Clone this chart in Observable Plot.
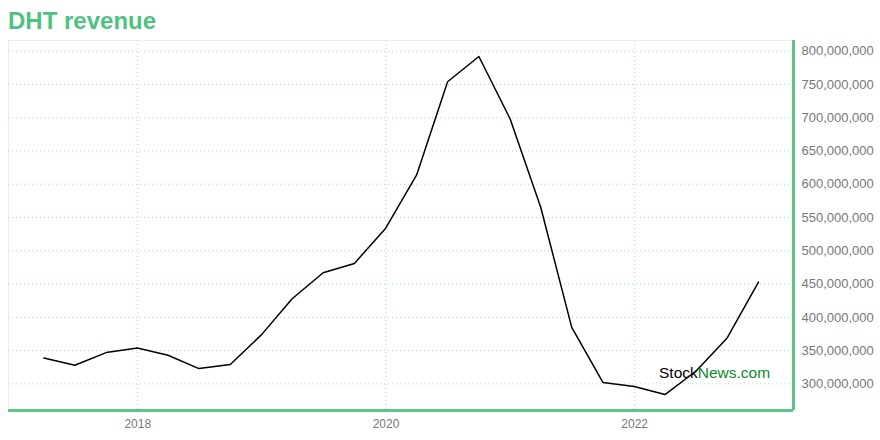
<!DOCTYPE html>
<html>
<head>
<meta charset="utf-8">
<script src="https://cdn.jsdelivr.net/npm/d3@7"></script>
<script src="https://cdn.jsdelivr.net/npm/@observablehq/plot@0.6"></script>
<style>
  html, body { margin: 0; padding: 0; background: #fff; }
  #wrap { position: relative; width: 880px; height: 440px; font-family: "Liberation Sans", Arial, sans-serif; }
  #title { position: absolute; left: 8px; top: 7px; font-size: 24px; font-weight: bold; color: #4fc281; }
  #wm { position: absolute; left: 659px; top: 364px; font-size: 15.5px; }
  #wm .a { color: #000; } #wm .b { color: #0b8a2e; }
</style>
</head>
<body>
<div id="wrap">
  <div id="chart"></div>
  <div id="title">DHT revenue</div>
  <div id="wm"><span class="a">Stock</span><span class="b">News.com</span></div>
</div>
<script>
const dates = ["2017-03-31","2017-06-30","2017-09-30","2017-12-31","2018-03-31","2018-06-30","2018-09-30","2018-12-31",
  "2019-03-31","2019-06-30","2019-09-30","2019-12-31","2020-03-31","2020-06-30","2020-09-30","2020-12-31",
  "2021-03-31","2021-06-30","2021-09-30","2021-12-31","2022-03-31","2022-06-30","2022-09-30","2022-12-31"];
const revenue = [339e6, 328e6, 347e6, 354e6, 343e6, 323e6, 329e6, 374e6,
  428e6, 467e6, 481e6, 534e6, 614e6, 754e6, 792e6, 698e6,
  565e6, 385e6, 302e6, 296e6, 284e6, 319e6, 369e6, 453e6];
const yTicks = [300e6, 350e6, 400e6, 450e6, 500e6, 550e6, 600e6, 650e6, 700e6, 750e6, 800e6];
const xTicks = ["2018-01-01", "2020-01-01", "2022-01-01"];
const xDomain = ["2016-12-17", "2023-04-13"];
const yDomain = [260e6, 816e6];

const data = dates.map((d, i) => ({date: new Date(d), value: revenue[i]}));
const grid = "#a3ddb8";
const green = "#5cc58a";

const chart = Plot.plot({
  width: 880,
  height: 440,
  marginTop: 40,
  marginBottom: 30,
  marginLeft: 8,
  marginRight: 87,
  style: {fontFamily: "'Liberation Sans', Arial, sans-serif", background: "#fff"},
  x: {type: "utc", domain: xDomain.map(d => new Date(d))},
  y: {domain: yDomain},
  marks: [
    Plot.frame({stroke: "#ececec"}),
    Plot.gridY(yTicks, {stroke: grid, strokeOpacity: 1, strokeDasharray: "1,3"}),
    Plot.gridX(xTicks.map(d => new Date(d)), {stroke: grid, strokeOpacity: 1, strokeDasharray: "1,3"}),
    Plot.axisY(yTicks, {anchor: "right", tickSize: 0, tickPadding: 8, tickFormat: d3.format(","), fontSize: 13, fill: "#777", label: null}),
    Plot.axisX(xTicks.map(d => new Date(d)), {anchor: "bottom", tickSize: 0, tickPadding: 9, tickFormat: d3.utcFormat("%Y"), fontSize: 12, fill: "#777", label: null}),
    Plot.line(data, {x: "date", y: "value", stroke: "#000", strokeWidth: 1.5}),
    Plot.ruleY([yDomain[0]], {stroke: green, strokeWidth: 3}),
    Plot.ruleX([new Date(xDomain[1])], {stroke: green, strokeWidth: 3})
  ]
});
document.getElementById("chart").appendChild(chart);
</script>
</body>
</html>
